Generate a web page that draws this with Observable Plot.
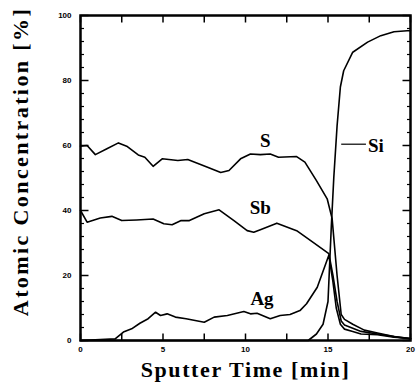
<!DOCTYPE html>
<html><head><meta charset="utf-8">
<script src="https://cdn.jsdelivr.net/npm/d3@7"></script>
<script src="https://cdn.jsdelivr.net/npm/@observablehq/plot@0.6"></script>
<style>body{margin:0;background:#fff}</style>
</head><body><div id="chart"></div>
<script>
// Sputter time [min] and atomic concentration [%] for each element
const sTime  = [0, 0.4, 0.9, 1.6, 2.3, 2.8, 3.5, 3.9, 4.4, 4.95, 5.9, 6.5, 7.7, 8.5, 9.0, 9.7, 10.3, 10.9, 11.5, 12.0, 13.1, 13.6, 14.3, 14.95, 15.25, 15.55, 15.8, 16.0, 16.5, 17.2, 18, 19, 20];
const sVal   = [59.8, 60, 57.2, 59, 60.8, 59.8, 57.1, 56.4, 53.6, 55.9, 55.4, 55.7, 53.3, 51.7, 52.3, 55.9, 57.4, 57.2, 57.4, 56.4, 56.6, 54.9, 49.2, 43.6, 37.5, 20, 8, 6.5, 5, 3.2, 2.3, 1.2, 0.6];

const sbTime = [0, 0.4, 1.2, 1.9, 2.5, 3.4, 4.4, 5.05, 5.55, 6.1, 6.6, 7.5, 8.4, 9.3, 10.1, 10.5, 10.9, 11.9, 13.1, 14.1, 15.05, 15.3, 15.55, 15.8, 16.0, 16.5, 17, 18, 19, 20];
const sbVal  = [40, 36.4, 37.7, 38.2, 36.9, 37.1, 37.4, 35.9, 35.6, 36.9, 36.9, 39, 40.2, 36.9, 33.8, 33.3, 34.1, 36.1, 33.8, 30.2, 26.7, 20, 12, 6, 4.8, 3.8, 2.8, 2, 1.2, 0.5];

const agTime = [0, 2.1, 2.6, 3.1, 3.6, 4.1, 4.55, 4.85, 5.25, 5.75, 6.4, 7.5, 8.1, 8.9, 9.9, 10.3, 10.7, 11.5, 12.1, 12.7, 13.3, 13.7, 14.35, 15.05, 15.3, 15.5, 15.75, 16, 16.5, 17, 18, 19, 20];
const agVal  = [0, 0.5, 2.6, 3.6, 5.3, 6.7, 8.7, 7.7, 8.2, 7.2, 6.7, 5.6, 7.2, 7.7, 8.9, 8.2, 8.4, 6.7, 7.7, 8, 9.2, 11.3, 16.4, 26.2, 18, 10, 5, 3.5, 2.8, 2, 1.8, 1, 0.6];

const siTime = [0, 13.8, 14.3, 14.7, 15.0, 15.2, 15.35, 15.55, 15.75, 15.95, 16.5, 17.4, 18.2, 19.0, 19.8, 20];
const siVal  = [0, 0, 2, 5, 12, 35, 50, 66, 78, 83, 88.7, 91.8, 93.8, 95, 95.3, 95.3];

const xTickLabels = [0, 5, 10, 15, 20];
const xTicks = [0, 2.5, 5, 7.5, 10, 12.5, 15, 17.5, 20];
const yTickLabels = [0, 20, 40, 60, 80, 100];
const yMinorTicks = [4, 8, 12, 16, 24, 28, 32, 36, 44, 48, 52, 56, 64, 68, 72, 76, 84, 88, 92, 96];

const toRows = (t, v) => t.map((x, i) => ({t: x, v: v[i]}));
const series = [toRows(sTime, sVal), toRows(sbTime, sbVal), toRows(agTime, agVal), toRows(siTime, siVal)];

const W = 416, H = 389, ML = 80, MR = 6, MT = 15, MB = 49;
const FW = W - ML - MR, FH = H - MT - MB;
const X0 = 0, X1 = 20, Y0 = 0, Y1 = 100;
const kx = (X1 - X0) / FW, ky = (Y1 - Y0) / FH; // data units per pixel

// inward tick marks built from the tick arrays as two-point segments
let seg = 0;
const segs = (arr, make) => arr.flatMap(v => { const id = seg++; return make(v).map(p => ({...p, id})); });
const majorTicks = [
  ...segs(yTickLabels, v => [{x: X0, y: v}, {x: X0 + 8 * kx, y: v}]),
  ...segs(yTickLabels, v => [{x: X1, y: v}, {x: X1 - 8 * kx, y: v}]),
  ...segs(xTicks, v => [{x: v, y: Y0}, {x: v, y: Y0 + 7 * ky}]),
  ...segs(xTicks, v => [{x: v, y: Y1}, {x: v, y: Y1 - 7 * ky}])
];
const minorTicks = [
  ...segs(yMinorTicks, v => [{x: X0, y: v}, {x: X0 + 3.5 * kx, y: v}]),
  ...segs(yMinorTicks, v => [{x: X1, y: v}, {x: X1 - 3.5 * kx, y: v}])
];

const serif = "'Liberation Serif', 'Times New Roman', serif";
const lbl = {fontFamily: serif, fontWeight: "bold", fontSize: 19, fill: "black"};

const chart = Plot.plot({
  width: W, height: H,
  marginLeft: ML, marginRight: MR, marginTop: MT, marginBottom: MB,
  x: {domain: [X0, X1]},
  y: {domain: [Y0, Y1]},
  style: {fontFamily: "'Liberation Sans', Arial, sans-serif", background: "white", color: "black"},
  marks: [
    Plot.axisY({ticks: yTickLabels, tickSize: 0, tickPadding: 9, fontSize: 8, fontWeight: "bold", label: null}),
    Plot.axisX({ticks: xTickLabels, tickSize: 0, tickPadding: 6, fontSize: 8, fontWeight: "bold", label: null}),
    // inward ticks
    Plot.line(majorTicks, {x: "x", y: "y", z: "id", stroke: "black", strokeWidth: 1.5, strokeLinecap: "butt"}),
    Plot.line(minorTicks, {x: "x", y: "y", z: "id", stroke: "black", strokeWidth: 1.2, strokeLinecap: "butt"}),
    // curves
    ...series.map(d => Plot.line(d, {x: "t", y: "v", stroke: "black", strokeWidth: 1.6})),
    Plot.frame({stroke: "black", strokeWidth: 2.5}),
    // series labels
    Plot.text(["S"], {x: 11.2, y: 61.5, text: d => d, ...lbl}),
    Plot.text(["Sb"], {x: 10.9, y: 40.9, text: d => d, ...lbl}),
    Plot.text(["Ag"], {x: 11.0, y: 12.9, text: d => d, ...lbl}),
    Plot.text(["Si"], {x: 17.9, y: 60, text: d => d, ...lbl}),
    Plot.link([0], {x1: 15.8, x2: 17.3, y1: 60.4, y2: 60.4, stroke: "black", strokeWidth: 1.2}),
    // axis titles
    Plot.text(["Atomic Concentration [%]"], {frameAnchor: "left", dx: -60, dy: -16.5, rotate: -90, textAnchor: "middle", text: d => d, fontFamily: serif, fontWeight: "bold", fontSize: 22, fill: "black"}),
    Plot.text(["Sputter Time [min]"], {frameAnchor: "bottom", dy: 36, textAnchor: "middle", text: d => d, fontFamily: serif, fontWeight: "bold", fontSize: 22, fill: "black"})
  ]
});
d3.select(chart).selectAll("text").each(function() {
  const t = this.textContent;
  if (t === "Atomic Concentration [%]") this.style.letterSpacing = "2.4px";
  if (t === "Sputter Time [min]") this.style.letterSpacing = "1.6px";
});
document.getElementById("chart").append(chart);
</script>
</body></html>
